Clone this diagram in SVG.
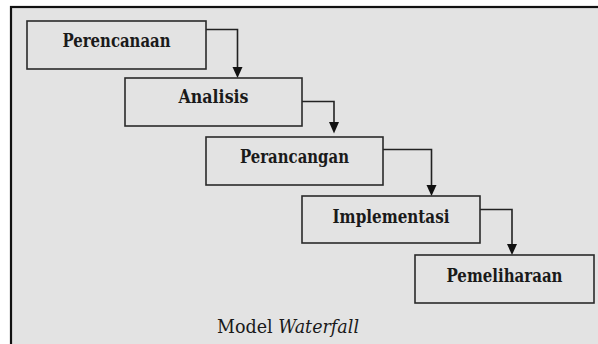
<svg xmlns="http://www.w3.org/2000/svg" width="598" height="344" viewBox="0 0 598 344">
<defs>
<style>
.frame{fill:#e3e3e3;stroke:#111;stroke-width:2.2}
.box{fill:#e3e3e3;stroke:#2a2a2a;stroke-width:1.6}
.lbl{font-family:'DejaVu Serif',serif;font-size:18px;font-weight:bold;fill:#1a1a1a;text-anchor:middle}
.cap{font-family:'DejaVu Serif',serif;font-size:18px;fill:#1a1a1a}
.conn{fill:none;stroke:#222;stroke-width:1.6}
.head{fill:#111}
</style>
</defs>
<rect x="0" y="0" width="598" height="344" fill="#ffffff"/>
<rect class="frame" x="11" y="7" width="600" height="350"/>
<g id="connectors">
<path class="conn" d="M206,29.5 H237.5 V67"/>
<path class="head" d="M232.5,67 L242.5,67 L237.5,78 Z"/>
<path class="conn" d="M302,101.5 H334 V122"/>
<path class="head" d="M329,122 L339,122 L334,133.5 Z"/>
<path class="conn" d="M383,149.5 H431.5 V185"/>
<path class="head" d="M426.5,185 L436.5,185 L431.5,196 Z"/>
<path class="conn" d="M480,209.5 H512 V244"/>
<path class="head" d="M507,244 L517,244 L512,255 Z"/>
</g>
<g id="perencanaan">
<rect class="box" x="27" y="21" width="179" height="48"/>
<text class="lbl" x="116.5" y="47" textLength="108" lengthAdjust="spacingAndGlyphs">Perencanaan</text>
</g>
<g id="analisis">
<rect class="box" x="125" y="78" width="177" height="48"/>
<text class="lbl" x="213.5" y="103" textLength="70" lengthAdjust="spacingAndGlyphs">Analisis</text>
</g>
<g id="perancangan">
<rect class="box" x="206" y="137" width="177" height="48"/>
<text class="lbl" x="294.5" y="163" textLength="109" lengthAdjust="spacingAndGlyphs">Perancangan</text>
</g>
<g id="implementasi">
<rect class="box" x="302" y="196" width="178" height="47"/>
<text class="lbl" x="391" y="222.5" textLength="117" lengthAdjust="spacingAndGlyphs">Implementasi</text>
</g>
<g id="pemeliharaan">
<rect class="box" x="415" y="255" width="179" height="48"/>
<text class="lbl" x="504.5" y="281.5" textLength="116" lengthAdjust="spacingAndGlyphs">Pemeliharaan</text>
</g>
<text class="cap" x="217" y="333" textLength="142" lengthAdjust="spacingAndGlyphs">Model <tspan font-style="italic">Waterfall</tspan></text>
</svg>
